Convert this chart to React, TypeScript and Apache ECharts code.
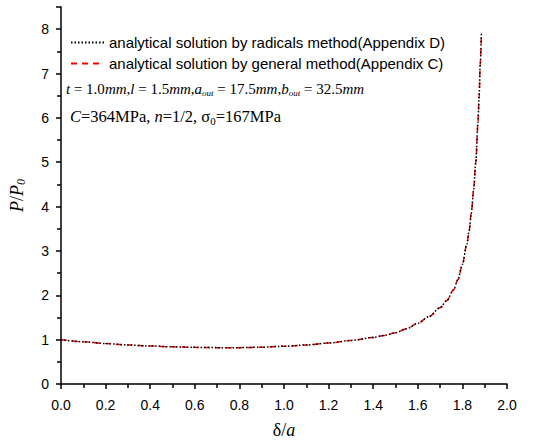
import React, { useEffect, useRef } from "react";
import * as echarts from "echarts";

const xTicks = [0, 0.2, 0.4, 0.6, 0.8, 1.0, 1.2, 1.4, 1.6, 1.8, 2.0];
const deltaOverA = [
  0, 0.1, 0.2, 0.3, 0.4, 0.5, 0.6, 0.7, 0.8, 0.9, 1.0, 1.1, 1.2, 1.3, 1.4, 1.45, 1.5, 1.55, 1.6, 1.65,
  1.7, 1.73, 1.76, 1.78, 1.8, 1.82, 1.83, 1.84, 1.85, 1.86, 1.87, 1.875, 1.88, 1.885,
];
const radicalsPP0 = [
  1.0, 0.952, 0.912, 0.88, 0.857, 0.838, 0.826, 0.82, 0.82, 0.83, 0.85, 0.88, 0.925, 0.98, 1.05, 1.095,
  1.155, 1.245, 1.37, 1.52, 1.72, 1.88, 2.12, 2.35, 2.7, 3.15, 3.45, 3.85, 4.35, 5.0, 5.9, 6.5, 7.2, 7.9,
];
const generalPP0 = [
  1.0, 0.952, 0.912, 0.88, 0.857, 0.838, 0.826, 0.82, 0.82, 0.83, 0.85, 0.88, 0.925, 0.98, 1.05, 1.095,
  1.155, 1.245, 1.37, 1.52, 1.72, 1.88, 2.12, 2.35, 2.7, 3.15, 3.45, 3.85, 4.35, 5.0, 5.9, 6.5, 7.2, 7.9,
];
const seriesNames = [
  "analytical solution by radicals method(Appendix D)",
  "analytical solution by general method(Appendix C)",
];

const serif = "'Liberation Serif', 'DejaVu Serif', serif";
const sans = "'Liberation Sans', Arial, sans-serif";

export default function App() {
  const ref = useRef<HTMLDivElement>(null);
  useEffect(() => {
    if (!ref.current) return;
    const chart = echarts.init(ref.current, undefined, { renderer: "svg" });
    const pairs = (ys: number[]) => deltaOverA.map((x, i) => [x, ys[i]]);
    chart.setOption({
      animation: false,
      backgroundColor: "#fff",
      grid: { left: 52, right: 43, top: 7, bottom: 61, containLabel: false },
      legend: {
        orient: "vertical",
        left: 65,
        top: 30,
        itemWidth: 33,
        itemHeight: 14,
        itemGap: 6,
        data: seriesNames,
        itemStyle: { color: "transparent", borderWidth: 0, opacity: 0 },
        textStyle: { fontFamily: sans, fontSize: 15, color: "#000" },
      },
      xAxis: {
        type: "value",
        min: 0,
        max: 2,
        interval: 0.2,
        name: "{d|δ}/{i|a}",
        nameLocation: "middle",
        nameGap: 37,
        nameTextStyle: {
          rich: {
            d: { fontFamily: serif, fontSize: 18, color: "#000" },
            i: { fontFamily: serif, fontSize: 18, fontStyle: "italic", color: "#000" },
          },
          fontFamily: serif,
          fontSize: 18,
          color: "#000",
        },
        axisLine: { show: true, lineStyle: { color: "#000", width: 1.5 } },
        axisTick: { show: true, length: 5, lineStyle: { color: "#000", width: 1.5 } },
        minorTick: { show: true, splitNumber: 2, length: 4, lineStyle: { color: "#000", width: 1.5 } },
        splitLine: { show: false },
        axisLabel: {
          color: "#000",
          fontFamily: sans,
          fontSize: 14,
          margin: 14,
          formatter: (v: number) => (xTicks.some((t) => Math.abs(t - v) < 1e-9) ? v.toFixed(1) : ""),
        },
      },
      yAxis: {
        type: "value",
        min: 0,
        max: 8.5,
        interval: 1,
        name: "{i|P}/{i|P}{s|0}",
        nameLocation: "middle",
        nameGap: 34,
        nameRotate: 90,
        nameTextStyle: {
          rich: {
            i: { fontFamily: serif, fontSize: 18, fontStyle: "italic", color: "#000" },
            s: { fontFamily: serif, fontSize: 12, fontStyle: "italic", color: "#000", padding: [8, 0, 0, 0] },
          },
          fontFamily: serif,
          fontSize: 18,
          color: "#000",
        },
        axisLine: { show: true, lineStyle: { color: "#000", width: 1.5 } },
        axisTick: { show: true, length: 5, lineStyle: { color: "#000", width: 1.5 } },
        minorTick: { show: true, splitNumber: 2, length: 4, lineStyle: { color: "#000", width: 1.5 } },
        splitLine: { show: false },
        axisLabel: {
          color: "#000",
          fontFamily: sans,
          fontSize: 14,
          margin: 12,
          showMaxLabel: false,
          formatter: (v: number) => (Number.isInteger(v) ? String(v) : ""),
        },
      },
      series: [
        {
          name: seriesNames[1],
          type: "line",
          data: pairs(generalPP0),
          showSymbol: false,
          symbol: "none",
          smooth: 0.3,
          smoothMonotone: "x",
          z: 2,
          lineStyle: { color: "#ff0000", width: 1.5, type: [6, 5] },
          itemStyle: { color: "#ff0000" },
        },
        {
          name: seriesNames[0],
          type: "line",
          data: pairs(radicalsPP0),
          showSymbol: false,
          symbol: "none",
          smooth: 0.3,
          smoothMonotone: "x",
          z: 3,
          lineStyle: { color: "#000", width: 1.5, type: [1.5, 2] },
          itemStyle: { color: "#000" },
        },
      ],
      graphic: [
        {
          type: "text",
          left: 66,
          top: 81,
          style: {
            text:
              "{i|t} = 1.0{i|mm},{i|l} = 1.5{i|mm},{i|a}{s|out} = 17.5{i|mm},{i|b}{s|out} = 32.5{i|mm}",
            font: `15px ${serif}`,
            fill: "#000",
            rich: {
              i: { fontFamily: serif, fontSize: 15, fontStyle: "italic", fill: "#000" },
              s: { fontFamily: serif, fontSize: 9, fontStyle: "italic", fill: "#000", padding: [8, 0, 0, 0] },
            },
          },
        },
        {
          type: "text",
          left: 70,
          top: 108,
          style: {
            text: "{i|C}=364MPa, {i|n}=1/2, σ{s|0}=167MPa",
            font: `16.5px ${serif}`,
            fill: "#000",
            rich: {
              i: { fontFamily: serif, fontSize: 16.5, fontStyle: "italic", fill: "#000" },
              s: { fontFamily: serif, fontSize: 11, fill: "#000", padding: [9, 0, 0, 0] },
            },
          },
        },
      ],
    });
    return () => chart.dispose();
  }, []);
  return (
    <div
      ref={ref}
      style={{ position: "fixed", left: 0, top: 0, width: 550, height: 445, background: "#fff" }}
    />
  );
}
